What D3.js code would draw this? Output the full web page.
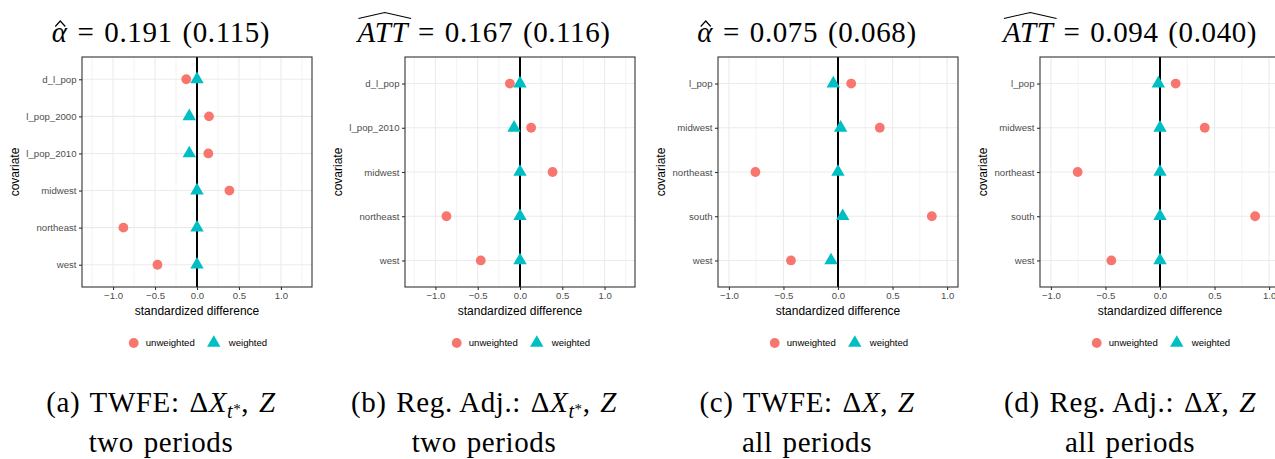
<!DOCTYPE html>
<html><head><meta charset="utf-8">
<script src="https://cdn.jsdelivr.net/npm/d3@7"></script>
<style>body{margin:0;background:#fff} svg{display:block}</style>
</head><body><svg id="chart" width="1275" height="459"></svg>
<script>
// ---------------- data ----------------
const catsA = ["d_l_pop","l_pop_2000","l_pop_2010","midwest","northeast","west"];
const unweightedA = [-0.128, 0.143, 0.135, 0.386, -0.877, -0.471];
const weightedA   = [0.000, -0.092, -0.092, 0.000, 0.000, 0.000];

const catsB = ["d_l_pop","l_pop_2010","midwest","northeast","west"];
const unweightedB = [-0.120, 0.132, 0.385, -0.870, -0.464];
const weightedB   = [0.000, -0.070, 0.000, 0.000, 0.000];

const catsC = ["l_pop","midwest","northeast","south","west"];
const unweightedC = [0.121, 0.383, -0.757, 0.860, -0.431];
const weightedC   = [-0.043, 0.024, 0.000, 0.043, -0.064];

const catsD = ["l_pop","midwest","northeast","south","west"];
const unweightedD = [0.144, 0.410, -0.755, 0.872, -0.446];
const weightedD   = [-0.015, 0.000, 0.000, 0.000, 0.000];

const xTickValues = [-1, -0.5, 0, 0.5, 1];
const xTickLabels = ["\u22121.0","\u22120.5","0.0","0.5","1.0"];
const xLimits = [[-1.37,1.37],[-1.36,1.36],[-1.1,1.1],[-1.1,1.1]];

const estimatorNames = ["alpha","ATT","alpha","ATT"];
const estimates = ["0.191","0.167","0.075","0.094"];
const stdErrors = ["0.115","0.116","0.068","0.040"];
const captionLetters = ["(a)","(b)","(c)","(d)"];
const captionMethods = ["TWFE:","Reg.\u2009Adj.:","TWFE:","Reg.\u2009Adj.:"];
const captionSubscript = [true,true,false,false];
const captionPeriods = ["two periods","two periods","all periods","all periods"];
const seriesNames = ["unweighted","weighted"];
const seriesColors = ["#F8766D","#00BFC4"];

// ---------------- layout ----------------
const W = 1275, H = 459;
const plotTop = 57, plotBottom = 287;
const layout = [
  {cx:161,  left:82,   right:312},
  {cx:484,  left:405,  right:635},
  {cx:807,  left:718,  right:958},
  {cx:1130, left:1040, right:1280}
];
const panels = [
  {cats:catsA, unw:unweightedA, wt:weightedA},
  {cats:catsB, unw:unweightedB, wt:weightedB},
  {cats:catsC, unw:unweightedC, wt:weightedC},
  {cats:catsD, unw:unweightedD, wt:weightedD}
];
const SANS = "'Liberation Sans', Arial, Helvetica, sans-serif";
const SERIF = "'Liberation Serif', 'Times New Roman', serif";
const triSym = d3.symbol().type(d3.symbolTriangle).size(78);

const svg = d3.select("#chart");
svg.append("rect").attr("width",W).attr("height",H).attr("fill","#fff");

function serifText(sel) {
  return sel.style("font-family", SERIF).style("font-size", "29px")
    .style("letter-spacing", "0.6px").style("word-spacing", "2px").attr("fill", "#000");
}

panels.forEach((p, i) => {
  const L = layout[i];
  const g = svg.append("g");
  const x = d3.scaleLinear().domain(xLimits[i]).range([L.left, L.right]);
  const y = d3.scalePoint().domain(p.cats).range([plotTop, plotBottom]).padding(0.6);

  // minor grid
  const dom = xLimits[i];
  const minors = d3.range(-1.75, 1.76, 0.5).filter(v => v > dom[0] && v < dom[1]);
  g.selectAll(".minor").data(minors).join("line")
    .attr("x1", d => x(d)).attr("x2", d => x(d))
    .attr("y1", plotTop).attr("y2", plotBottom)
    .attr("stroke", "#EBEBEB").attr("stroke-width", 0.6);
  // major grid
  g.selectAll(".majx").data(xTickValues).join("line")
    .attr("x1", d => x(d)).attr("x2", d => x(d))
    .attr("y1", plotTop).attr("y2", plotBottom)
    .attr("stroke", "#EBEBEB").attr("stroke-width", 1.1);
  g.selectAll(".majy").data(p.cats).join("line")
    .attr("x1", L.left).attr("x2", L.right)
    .attr("y1", d => y(d)).attr("y2", d => y(d))
    .attr("stroke", "#EBEBEB").attr("stroke-width", 1.1);

  // vertical reference line at 0
  g.append("line")
    .attr("x1", x(0)).attr("x2", x(0))
    .attr("y1", plotTop).attr("y2", plotBottom)
    .attr("stroke", "#000").attr("stroke-width", 2);

  // points
  g.selectAll(".unw").data(p.cats).join("circle")
    .attr("cx", (d, j) => x(p.unw[j])).attr("cy", d => y(d))
    .attr("r", 4.9).attr("fill", seriesColors[0]);
  g.selectAll(".wt").data(p.cats).join("path")
    .attr("d", triSym)
    .attr("transform", (d, j) => `translate(${x(p.wt[j])},${y(d)})`)
    .attr("fill", seriesColors[1]);

  // border
  g.append("rect")
    .attr("x", L.left).attr("y", plotTop)
    .attr("width", L.right - L.left).attr("height", plotBottom - plotTop)
    .attr("fill", "none").attr("stroke", "#333333").attr("stroke-width", 1.1);

  // axes
  const ay = g.append("g").attr("transform", `translate(${L.left},0)`)
    .call(d3.axisLeft(y).tickSize(3).tickPadding(2.5));
  const ax = g.append("g").attr("transform", `translate(0,${plotBottom})`)
    .call(d3.axisBottom(x).tickValues(xTickValues).tickSize(3).tickPadding(2.5)
      .tickFormat((d, j) => xTickLabels[j]));
  [ax, ay].forEach(a => {
    a.select(".domain").remove();
    a.selectAll(".tick line").attr("stroke", "#333333").attr("stroke-width", 1.1);
    a.selectAll(".tick text").attr("fill", "#4D4D4D")
      .style("font-family", SANS).style("font-size", "9.6px");
  });

  // y-axis title
  let maxW = 0;
  ay.selectAll(".tick text").each(function(){ maxW = Math.max(maxW, this.getComputedTextLength()); });
  const ytx = L.left - 5.5 - maxW - 7.5;
  g.append("text")
    .attr("transform", `translate(${ytx},${(plotTop+plotBottom)/2}) rotate(-90)`)
    .attr("text-anchor", "middle")
    .style("font-family", SANS).style("font-size", "12px").attr("fill", "#000")
    .text("covariate");

  // x-axis title
  const pcx = (L.left + L.right) / 2;
  g.append("text")
    .attr("x", pcx).attr("y", 314.5).attr("text-anchor", "middle")
    .style("font-family", SANS).style("font-size", "12px").attr("fill", "#000")
    .text("standardized difference");

  // legend
  const lg = g.append("g");
  const ly = 343;
  lg.append("circle").attr("cx", 0).attr("cy", ly).attr("r", 4.9).attr("fill", seriesColors[0]);
  const t1 = lg.append("text").attr("x", 12).attr("y", ly).attr("dy", "0.35em")
    .style("font-family", SANS).style("font-size", "9.6px").attr("fill", "#000")
    .text(seriesNames[0]);
  const w1 = t1.node().getComputedTextLength();
  const tri2x = 12 + w1 + 19;
  lg.append("path").attr("d", triSym).attr("transform", `translate(${tri2x},${ly})`)
    .attr("fill", seriesColors[1]);
  lg.append("text").attr("x", tri2x + 15).attr("y", ly).attr("dy", "0.35em")
    .style("font-family", SANS).style("font-size", "9.6px").attr("fill", "#000")
    .text(seriesNames[1]);
  const bb = lg.node().getBBox();
  lg.attr("transform", `translate(${pcx + 1 - (bb.x + bb.width/2)},0)`);

  // title
  const title = serifText(svg.append("text")
    .attr("x", L.cx).attr("y", 42).attr("text-anchor", "middle"));
  const isAlpha = estimatorNames[i] === "alpha";
  title.append("tspan").style("font-style", "italic").text(isAlpha ? "\u03B1" : "ATT");
  title.append("tspan").text(` = ${estimates[i]} (${stdErrors[i]})`);
  const tn = title.node();
  const nChars = isAlpha ? 1 : 3;
  const hx0 = tn.getStartPositionOfChar(0).x;
  const hx1 = tn.getEndPositionOfChar(nChars - 1).x;
  if (isAlpha) {
    const mx = (hx0 + hx1) / 2 + 0.5;
    svg.append("path")
      .attr("d", `M${mx-5},26.5 L${mx},21 L${mx+5},26.5`)
      .attr("fill", "none").attr("stroke", "#000").attr("stroke-width", 1.2);
  } else {
    const mx = (hx0 + hx1) / 2 + 2;
    svg.append("path")
      .attr("d", `M${hx0+1},18.5 L${mx},12.5 L${hx1+3},18.5`)
      .attr("fill", "none").attr("stroke", "#000").attr("stroke-width", 1.1);
  }

  // caption
  const cap = serifText(svg.append("text")
    .attr("x", L.cx).attr("y", 412).attr("text-anchor", "middle"));
  cap.append("tspan").text(`${captionLetters[i]} ${captionMethods[i]} \u0394`);
  cap.append("tspan").style("font-style", "italic").text("X");
  if (captionSubscript[i]) {
    cap.append("tspan").style("font-style", "italic").style("font-size", "20px").attr("dy", 6).text("t");
    cap.append("tspan").style("font-size", "15px").attr("dy", -4).text("*");
    cap.append("tspan").attr("dy", -2).text(", ");
  } else {
    cap.append("tspan").text(", ");
  }
  cap.append("tspan").style("font-style", "italic").text("Z");

  serifText(svg.append("text")
    .attr("x", L.cx).attr("y", 452).attr("text-anchor", "middle"))
    .text(captionPeriods[i]);
});
</script>
</body></html>
